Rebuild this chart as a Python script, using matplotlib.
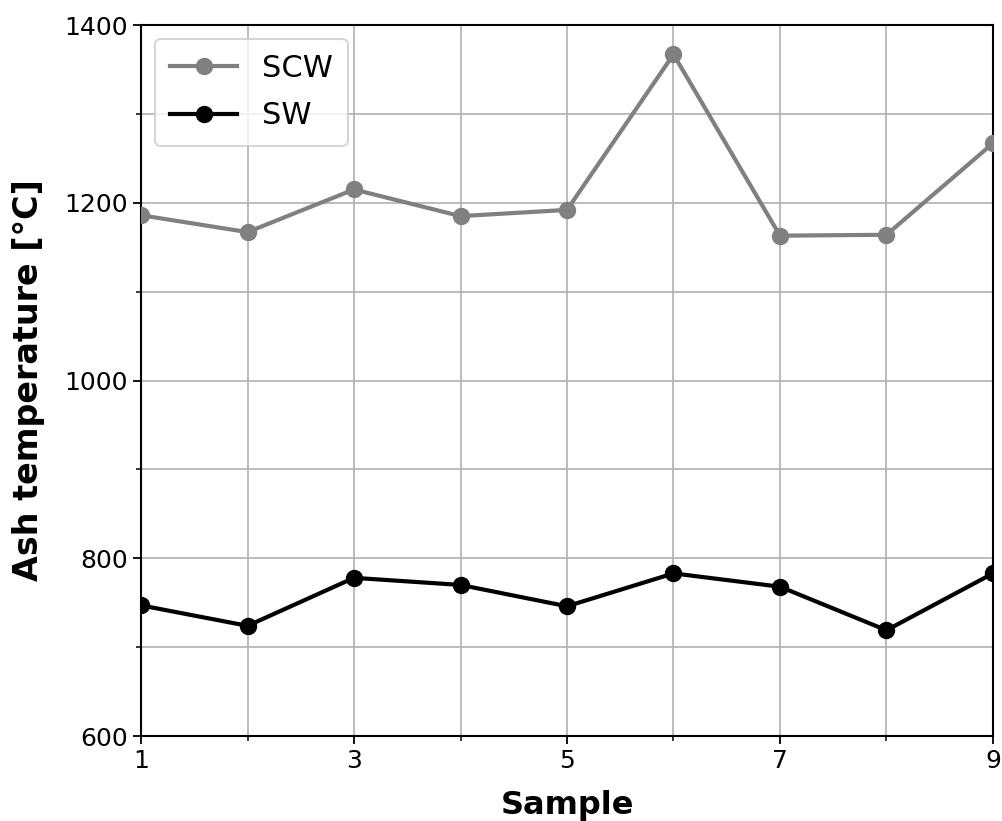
import matplotlib
matplotlib.use("Agg")
import matplotlib.pyplot as plt
from matplotlib.ticker import FixedLocator, MultipleLocator

samples = [1, 2, 3, 4, 5, 6, 7, 8, 9]
scw = [1186, 1167, 1215, 1185, 1192, 1367, 1163, 1164, 1267]
sw = [747, 724, 778, 770, 746, 783, 768, 719, 783]
xticks_major = [1, 3, 5, 7, 9]
xticks_minor = [2, 4, 6, 8]

fig = plt.figure(figsize=(10.03, 8.21), dpi=100)
ax = fig.add_axes([0.1406, 0.1035, 0.8494, 0.866])

ax.plot(samples, scw, color="#808080", lw=3, marker="o", ms=11.5, label="SCW", zorder=3)
ax.plot(samples, sw, color="black", lw=3, marker="o", ms=11.5, label="SW", zorder=3)

ax.set_xlim(1, 9)
ax.set_ylim(600, 1400)
ax.xaxis.set_major_locator(FixedLocator(xticks_major))
ax.xaxis.set_minor_locator(FixedLocator(xticks_minor))
ax.yaxis.set_major_locator(MultipleLocator(200))
ax.yaxis.set_minor_locator(MultipleLocator(100))
ax.grid(True, which="both", color="#b0b0b0", lw=1.2)
ax.set_axisbelow(True)
ax.tick_params(which="major", direction="out", length=6, width=1.3, labelsize=18)
ax.tick_params(which="minor", direction="out", length=3.5, width=1.1)
for s in ax.spines.values():
    s.set_linewidth(1.5)

ax.set_xlabel("Sample", fontsize=23, fontweight="bold", labelpad=12)
ax.set_ylabel("Ash temperature [°C]", fontsize=24, fontweight="bold", labelpad=14)

leg = ax.legend(loc="upper left", fontsize=22, frameon=True, borderpad=0.5,
                handlelength=2.2, labelspacing=0.6, borderaxespad=0.45)
leg.get_frame().set_linewidth(1.5)

fig.savefig("out.png", dpi=100)
